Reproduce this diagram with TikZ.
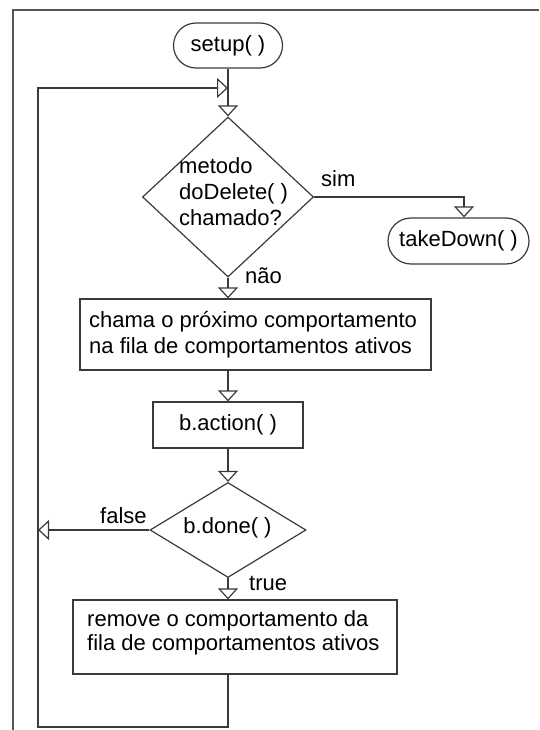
\documentclass[tikz,border=0pt]{standalone}
\usepackage{fontspec}
\setmainfont{Liberation Sans}
\usetikzlibrary{shapes.geometric,shapes.misc,arrows.meta}
\definecolor{linec}{HTML}{3A3A3A}
\definecolor{framec}{HTML}{555555}
\begin{document}
\begin{tikzpicture}[x=1pt,y=-1pt,
  line/.style={draw=linec, line width=1.2pt},
  tip/.style={-{Triangle[open,length=11pt,width=20pt]}},
  txt/.style={font=\fontsize{22}{26}\selectfont, inner sep=0pt, anchor=base west, text=black},
  box/.style={draw=linec, line width=1.2pt, rectangle, inner sep=0pt, font=\fontsize{22}{26}\selectfont},
  term/.style={draw=linec, line width=1.2pt, rounded rectangle, inner sep=0pt, font=\fontsize{22}{26}\selectfont},
  dec/.style={draw=linec, line width=1.2pt, diamond, inner sep=0pt}
]
\useasboundingbox (0,0) rectangle (539,730);
% outer frame
\draw[framec, line width=1.3pt] (539,10) -- (13,10) -- (13,730);

% shapes
\node[term, minimum width=109, minimum height=45] (setup) at (228,45.5) {setup( )};
\node[dec, minimum width=171, minimum height=160] (dec1) at (228,197) {};
\node[term, minimum width=141, minimum height=46] (take) at (458.5,241) {takeDown( )};
\node[box, minimum width=351, minimum height=71] (box1) at (255.5,334.5) {};
\node[box, minimum width=150, minimum height=46] (box2) at (228,425) {b.action( )};
\node[dec, minimum width=156, minimum height=95] (dec2) at (228,530) {};
\node[box, minimum width=324, minimum height=74] (box3) at (235,637) {};

% texts
\node[txt] (d1a) at (179,174) {metodo};
\node[txt] (d1b) at (179,200) {doDelete( )};
\node[txt] (d1c) at (179,225) {chamado?};
\node[txt] (b1a) at (89,327) {chama o próximo comportamento};
\node[txt] (b1b) at (89,353) {na fila de comportamentos ativos};
\node[txt, anchor=base] (d2t) at (227.5,533) {b.done( )};
\node[txt] (b3a) at (87,626) {remove o comportamento da};
\node[txt] (b3b) at (87,650) {fila de comportamentos ativos};
\node[txt] (lsim) at (321,186) {sim};
\node[txt] (lnao) at (245,283) {não};
\node[txt] (lfalse) at (100,523) {false};
\node[txt] (ltrue) at (249,590) {true};

% helper coordinates
\coordinate (j1) at (228,88);
\coordinate (l1) at (38,88);
\coordinate (bl) at (38,727);
\coordinate (br) at (228,727);
\coordinate (f1) at (38,530);
\coordinate (s1) at (464,197);

% connectors
\draw[line,tip] (setup.south) -- (dec1.north);
\draw[line,tip] (dec1.east) -- (s1) -- (s1 |- take.north);
\draw[line,tip] (dec1.south) -- (dec1.south |- box1.north);
\draw[line,tip] (box1.south -| box2.north) -- (box2.north);
\draw[line,tip] (box2.south) -- (dec2.north);
\draw[line,tip] (dec2.south) -- (dec2.south |- box3.north);
\draw[line,tip] (dec2.west) -- (f1);
\draw[line,tip] (box3.south -| br) -- (br) -- (bl) -- (l1) -- (j1);
\end{tikzpicture}
\end{document}
